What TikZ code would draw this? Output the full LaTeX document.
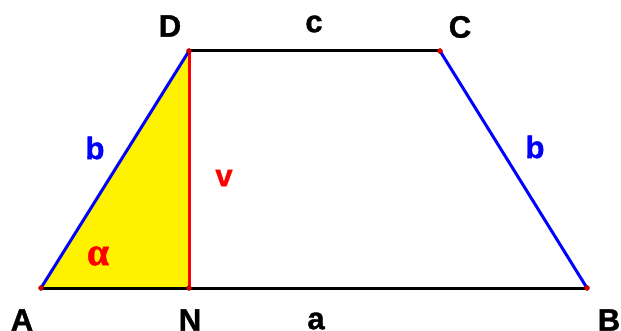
\documentclass[tikz,border=0pt]{standalone}
\usepackage{fontspec}
\setmainfont{Liberation Sans}
\newfontfamily\heavyfont[BoldFeatures={FakeBold=1.2}]{Liberation Sans}
\newfontfamily\greekfont[BoldFeatures={FakeBold=1}]{Liberation Serif}
\begin{document}
\begin{tikzpicture}[x=1pt,y=-1pt,
  edge/.style={line width=3pt},
  vtx/.style={circle,fill=red!85!black,draw=red!60!black,line width=0.4pt,inner sep=0pt,minimum size=5pt},
  lbl/.style={font=\heavyfont\fontsize{31}{31}\selectfont\bfseries,inner sep=0pt},
]
\useasboundingbox (0,0) rectangle (621,331);
\coordinate (A) at (41,288);
\coordinate (N) at (189,288);
\coordinate (B) at (587,288);
\coordinate (D) at (189,51);
\coordinate (C) at (440,51);
\fill[yellow] (A) -- (N) -- (D) -- cycle;
\draw[edge,black] (A) -- (B);
\draw[edge,black] (D) -- (C);
\draw[edge,blue] (A) -- (D);
\draw[edge,blue] (C) -- (B);
\draw[edge,red] (D) -- (N);
\foreach \p in {A,N,B,D,C} \node[vtx] at (\p) {};
\node[lbl] (lD) at (170,26) {D};
\node[lbl] (lc) at (314,24) {c};
\node[lbl] (lC) at (460,27) {C};
\node[lbl,blue] (lb1) at (95,148) {b};
\node[lbl,blue] (lb2) at (535,147) {b};
\node[lbl,red] (lv) at (224,178) {v};
\node[inner sep=0pt,red,font=\greekfont\fontsize{40}{40}\selectfont\bfseries] (lal) at (98,256) {α};
\node[lbl] (lA) at (22,320) {A};
\node[lbl] (lN) at (190,320) {N};
\node[lbl] (la) at (316,321) {a};
\node[lbl] (lB) at (609,320) {B};
\end{tikzpicture}
\end{document}
